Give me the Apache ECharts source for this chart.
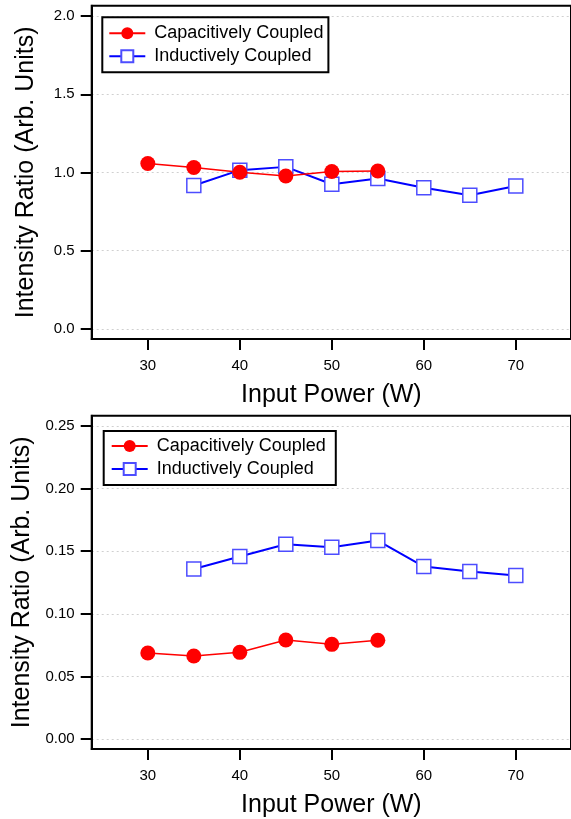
<!DOCTYPE html>
<html>
<head>
<meta charset="utf-8">
<script src="https://cdn.jsdelivr.net/npm/echarts@6/dist/echarts.min.js"></script>
<style>
html,body{margin:0;padding:0;background:#fff;}
#c{width:571px;height:819px;}
</style>
</head>
<body>
<div id="c"></div>
<script>
// ---- data ----
var seriesNames = ['Capacitively Coupled', 'Inductively Coupled'];
var xTicks = [30, 40, 50, 60, 70];
var capPower = [30, 35, 40, 45, 50, 55];
var indPower = [35, 40, 45, 50, 55, 60, 65, 70];
// top panel
var capTop = [1.058, 1.032, 1.002, 0.978, 1.006, 1.010];
var indTop = [0.917, 1.015, 1.036, 0.925, 0.962, 0.902, 0.855, 0.914];
var yTicksTop = [0, 0.5, 1.0, 1.5, 2.0];
// bottom panel
var capBot = [0.0687, 0.0663, 0.0692, 0.0791, 0.0756, 0.0788];
var indBot = [0.1358, 0.1457, 0.1556, 0.1532, 0.1585, 0.1377, 0.1337, 0.1305];
var yTicksBot = [0, 0.05, 0.10, 0.15, 0.20, 0.25];

function pairs(xs, ys) { return xs.map(function (x, i) { return [x, ys[i]]; }); }

var FONT = '"Liberation Sans", Arial, sans-serif';

function xAxisDef(gi) {
  return {
    type: 'value', gridIndex: gi, min: 23.9, max: 76,
    name: 'Input Power (W)', nameLocation: 'middle', nameGap: 44,
    nameTextStyle: { fontSize: 25, color: '#000', fontFamily: FONT },
    axisLine: { show: true, onZero: false, lineStyle: { color: '#000', width: 2 } },
    axisTick: { show: true, length: 11, lineStyle: { color: '#000', width: 2 }, customValues: xTicks },
    axisLabel: { fontSize: 15, color: '#000', fontFamily: FONT, margin: 19, customValues: xTicks },
    splitLine: { show: false }
  };
}
function yAxisDef(gi, mn, mx, ticks, dec) {
  return {
    type: 'value', gridIndex: gi, min: mn, max: mx,
    name: 'Intensity Ratio (Arb. Units)', nameLocation: 'middle', nameGap: 53,
    nameTextStyle: { fontSize: 25, color: '#000', fontFamily: FONT },
    axisLine: { show: true, onZero: false, lineStyle: { color: '#000', width: 2 } },
    axisTick: { show: true, length: 11, lineStyle: { color: '#000', width: 2 }, customValues: ticks },
    axisLabel: { fontSize: 15, color: '#000', fontFamily: FONT, margin: 17, customValues: ticks,
      formatter: function (v) { return v.toFixed(dec); } },
    splitLine: { show: true, lineStyle: { color: '#d0d0d0', type: [2, 3], width: 1 } }
  };
}
function capSeries(gi, ys) {
  return {
    name: seriesNames[0], type: 'line', xAxisIndex: gi, yAxisIndex: gi, z: 4,
    data: pairs(capPower, ys), symbol: 'circle', symbolSize: 15,
    lineStyle: { color: '#ff0000', width: 1.5 },
    itemStyle: { color: '#ff0000' }
  };
}
function indSeries(gi, ys) {
  return {
    name: seriesNames[1], type: 'line', xAxisIndex: gi, yAxisIndex: gi, z: 3,
    data: pairs(indPower, ys), symbol: 'rect', symbolSize: 14,
    lineStyle: { color: '#0000ff', width: 2 },
    itemStyle: { color: '#ffffff', borderColor: '#4d4dff', borderWidth: 1.5 }
  };
}
function legendDef(gi, left, top, pad) {
  return {
    show: true, orient: 'vertical', left: left, top: top, padding: pad,
    data: seriesNames.map(function (n) { return { name: n }; }),
    itemWidth: 36, itemHeight: 15, itemGap: 5,
    borderColor: '#000', borderWidth: 2, backgroundColor: '#fff',
    textStyle: { fontSize: 18, color: '#000', fontFamily: FONT, padding: [0, 0, 0, 4] },
    selectedMode: false
  };
}

var chart = echarts.init(document.getElementById('c'), null, { renderer: 'canvas' });
chart.setOption({
  animation: false,
  backgroundColor: '#fff',
  textStyle: { fontFamily: FONT },
  grid: [
    { left: 91.7, top: 5.7, width: 487.8, height: 333.3, show: true, borderColor: '#000', borderWidth: 2, backgroundColor: 'transparent' },
    { left: 91.7, top: 415.7, width: 487.8, height: 333.3, show: true, borderColor: '#000', borderWidth: 2, backgroundColor: 'transparent' }
  ],
  xAxis: [xAxisDef(0), xAxisDef(1)],
  yAxis: [yAxisDef(0, -0.064, 2.066, yTicksTop, 1), yAxisDef(1, -0.008, 0.2582, yTicksBot, 2)],
  legend: [legendDef(0, 102.3, 17.3, [7, 5, 7, 6]), legendDef(1, 103.7, 431, [6, 10, 7, 7])],
  series: [
    capSeries(0, capTop), indSeries(0, indTop),
    capSeries(1, capBot), indSeries(1, indBot)
  ]
});
</script>
</body>
</html>
